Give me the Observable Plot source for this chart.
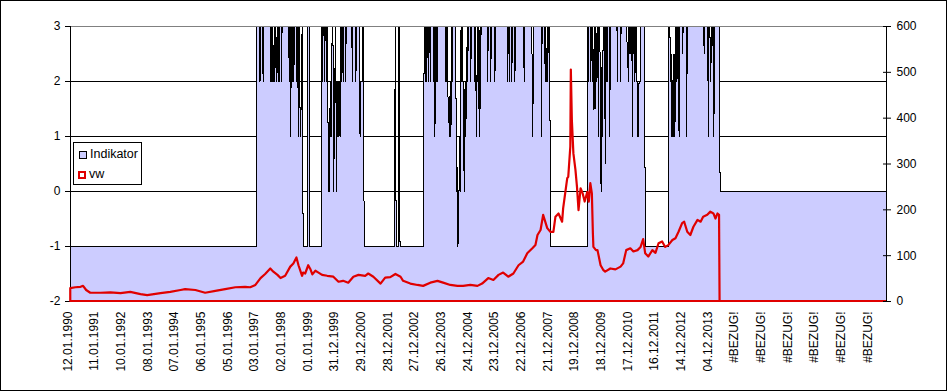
<!DOCTYPE html>
<html><head><meta charset="utf-8">
<script src="https://cdn.jsdelivr.net/npm/d3@7"></script>
<script src="https://cdn.jsdelivr.net/npm/@observablehq/plot@0.6"></script>
<style>
html,body{margin:0;padding:0;background:#fff;}
#wrap{position:relative;width:948px;height:392px;font-family:"Liberation Sans",Arial,sans-serif;}
#wrap svg{position:absolute;left:0;top:0;}
#border{position:absolute;left:0;top:0;width:947px;height:391px;box-sizing:border-box;border:1px solid #000;pointer-events:none;}
#legend{position:absolute;left:73px;top:142px;width:69px;height:43px;box-sizing:border-box;border:1px solid #000;background:#fff;font-size:12.5px;color:#000;}
#legend .sw{position:absolute;box-sizing:border-box;width:8px;height:8px;}
#legend .tx{position:absolute;line-height:14px;white-space:nowrap;}
</style>
</head><body>
<div id="wrap">
  <div id="border"></div>
</div>
<script>
// ---- data ----
const categoryCount = 1591; // weekly categories on the x axis
const tickLabels = ["12.01.1990","11.01.1991","10.01.1992","08.01.1993","07.01.1994","06.01.1995","05.01.1996","03.01.1997","02.01.1998","01.01.1999","31.12.1999","29.12.2000","28.12.2001","27.12.2002","26.12.2003","24.12.2004","23.12.2005","22.12.2006","21.12.2007","19.12.2008","18.12.2009","17.12.2010","16.12.2011","14.12.2012","04.12.2013","#BEZUG!","#BEZUG!","#BEZUG!","#BEZUG!","#BEZUG!","#BEZUG!"];
const tickInterval = 52;
const leftTicks = [-2, -1, 0, 1, 2, 3];
const rightTicks = [0, 100, 200, 300, 400, 500, 600];
const gridValues = [-1, 0, 1, 2];

// Indikator: level runs [firstWeek, lastWeek, value]
const indRuns = [
  [0, 362, -1], [363, 452, 3], [453, 461, -1], [462, 465, 3], [466, 488, -1],
  [489, 571, 3], [572, 631, -1], [632, 632, 1.5], [633, 633, 3], [634, 634, 0],
  [635, 639, -1], [640, 641, 3], [642, 688, -1], [689, 934, 3], [935, 1007, -1],
  [1008, 1119, 3], [1120, 1165, -1], [1166, 1265, 3], [1266, 1590, 0]
];
// Indikator: single-week deviations [week, value]
const indDips = [
  [369,2],[375,2],[390,2],[392,2],[393,2],[395,2],[396,2],[398,2],[401,2],[402,2],[405,2],[407,2],[411,2],
  [426,2],[429,1],[432,2],[435,2],[441,2],[443,2],[444,1],[447,1.5],[448,1],[449,1.5],[450,1.5],
  [491,2],[495,2],[499,2],[502,0],[503,1],[504,0],[505,1],[506,2],[507,1],[508,1],[509,2.5],
  [512,2],[513,0],[514,2],[515,2],[517,2],[518,0],[519,2],[520,2],[521,1],[522,2],[523,1],[524,2],[525,1],[527,2],
  [531,2],[536,2],[549,2],[556,2],[564,1],[565,2],[566,2],[567,2],[568,2],[571,2.5],
  [691,2],[694,2],[697,2],[701,2],[708,2],[710,1],[711,2],[713,2],[715,2],
  [731,2],[733,2],[735,2],[736,1.5],[737,1.5],[738,1],[739,1.5],[740,2],[741,1],[742,1.5],[744,2],
  [751,2],[752,0],[753,0.5],[754,0],[755,-1],[756,0],[757,0],[758,1],[759,0],[760,2],
  [762,2],[764,2],[765,2],[766,1.5],[767,0],[768,1.5],[769,2],[770,1],[771,1.5],[772,2],[774,2],
  [780,2],[788,2],[790,2],[791,1],[792,2],[794,2],[796,1.5],[797,1],[799,1.5],
  [813,2],[819,2],[827,2],[852,2],[855,2],[860,2],[866,2],[884,2],[899,2.5],[900,2.5],[901,1],[918,1],
  [925,2],[927,2],[928,2],[930,2],
  [1009,2],[1014,2],[1017,2],[1019,1.5],[1020,1.5],[1022,1.5],[1023,1.5],[1025,2],[1026,2],[1029,1],
  [1032,2.5],[1033,1],[1034,0],[1035,1],[1036,2.5],[1037,1],[1042,0.5],[1044,2],[1046,2],[1051,1],
  [1066,2],[1072,2],[1085,2.5],[1086,2.5],[1087,2],[1089,2.5],[1091,2.5],[1095,1],
  [1098,2.5],[1100,2],[1102,2.5],[1104,2],[1105,2],[1106,1],[1107,1],[1108,2],[1109,2],[1110,2],
  [1169,2.5],[1170,2.5],[1171,1],[1172,2.5],[1173,1],[1174,1],[1175,2.5],[1176,1],[1177,2.5],[1178,1],[1179,2.5],
  [1182,2],[1186,1],[1193,2.5],[1201,1],[1235,2.5],[1243,1],[1247,2.5],[1248,2],[1250,2.5],[1254,1]
];

// vw (right axis): weeks and values
const vwWeek = [0,10,20,25,31,39,59,78,98,117,137,150,176,195,215,224,244,263,283,302,322,341,351,361,371,380,390,396,404,410,419,429,435,441,445,452,454,458,464,468,472,478,484,491,501,513,523,532,542,552,562,575,581,591,605,614,624,634,644,649,663,677,688,702,716,727,741,755,766,780,794,803,815,825,835,844,854,864,874,883,891,901,907,911,917,922,930,936,942,946,952,959,961,969,971,975,976,978,981,985,988,991,995,999,1003,1008,1011,1014,1017,1019,1020,1025,1028,1034,1039,1043,1053,1063,1073,1078,1084,1092,1098,1106,1112,1117,1121,1127,1135,1141,1147,1154,1160,1166,1174,1180,1186,1193,1197,1203,1209,1215,1223,1229,1234,1242,1248,1254,1258,1262,1265,1266,1590];
const vwValue = [28,30,31,33,24,18,18,19,17,20,15,13,17,20,24,26,24,18,22,26,30,31,30,35,50,59,71,64,57,50,55,75,82,95,78,55,62,60,78,70,58,66,62,57,55,53,42,44,40,53,57,55,60,53,38,51,52,59,53,44,38,35,33,40,44,40,35,33,33,35,33,38,50,46,57,62,53,60,78,86,104,115,122,144,155,188,159,151,151,184,191,173,202,268,271,337,505,395,322,286,249,198,246,235,217,238,217,257,235,148,118,111,111,78,68,64,71,69,75,82,111,115,108,111,118,135,104,97,111,105,126,130,118,122,133,137,151,170,173,151,144,162,177,173,184,188,195,191,180,191,188,0,0];

// ---- build tables ----
const ind = new Array(categoryCount).fill(0);
for (const [a, b, v] of indRuns) for (let w = a; w <= b; w++) ind[w] = v;
for (const [w, v] of indDips) ind[w] = v;
const indRows = ind.map((v, w) => ({w, v}));
const vwRows = vwWeek.map((w, i) => ({w, v: vwValue[i]}));
const labelMap = new Map(tickLabels.map((t, i) => [i * tickInterval, t]));
const labelWeeks = [...labelMap.keys()];
const xDomain = [-0.5, categoryCount - 0.5];

const common = {
  width: 948, height: 392,
  marginLeft: 70, marginRight: 62, marginTop: 26, marginBottom: 91
};
const font = "'Liberation Sans', Arial, sans-serif";

const p1 = Plot.plot({
  ...common,
  style: {fontFamily: font, fontSize: "12px", background: "white", color: "black", overflow: "visible"},
  x: {type: "linear", domain: xDomain, label: null},
  y: {domain: [-2, 3], label: null},
  marks: [
    Plot.ruleY(gridValues, {stroke: "#000", strokeWidth: 1}),
    Plot.areaY(indRows, {x: "w", y1: () => -2, y2: "v", fill: "#ccccff", curve: "linear", shapeRendering: "crispEdges"}),
    Plot.lineY(indRows, {x: "w", y: "v", stroke: "#000", strokeWidth: 1, curve: "linear", shapeRendering: "crispEdges"}),
    Plot.ruleY([3], {stroke: "#808080"}),
    Plot.ruleX([xDomain[0]], {stroke: "#000"}),
    Plot.axisY({ticks: leftTicks, tickSize: 5, tickPadding: 5, tickFormat: d => String(d), fontSize: 12, label: null}),
    Plot.axisX({ticks: labelWeeks, tickFormat: d => labelMap.get(d), tickRotate: -90, tickSize: 0, tickPadding: 10, fontSize: 12, label: null, dx: -3})
  ]
});

const p2 = Plot.plot({
  ...common,
  style: {fontFamily: font, fontSize: "12px", background: "transparent", color: "black", overflow: "visible"},
  x: {type: "linear", domain: xDomain, label: null, axis: null},
  y: {domain: [0, 600], label: null},
  marks: [
    Plot.areaY(vwRows, {x: "w", y: "v", fill: "none", stroke: "#e00000", strokeWidth: 2.2, curve: "linear"}),
    Plot.ruleX([xDomain[1]], {stroke: "#000"}),
    Plot.axisY({anchor: "right", ticks: rightTicks, tickSize: 8, dx: -4, tickPadding: 6, tickFormat: d => String(d), fontSize: 12, label: null})
  ]
});

const wrap = document.getElementById("wrap");
wrap.insertBefore(p1, wrap.firstChild);
wrap.insertBefore(p2, document.getElementById("border"));

// legend
const legend = document.createElement("div");
legend.id = "legend";
legend.innerHTML =
  '<div class="sw" style="left:5px;top:8px;background:#ccccff;border:1px solid #000"></div>' +
  '<div class="tx" style="left:16px;top:4px">Indikator</div>' +
  '<div class="sw" style="left:4px;top:28px;background:#fff;border:2px solid #e00000"></div>' +
  '<div class="tx" style="left:15px;top:24px">vw</div>';
wrap.appendChild(legend);
</script>
</body></html>
